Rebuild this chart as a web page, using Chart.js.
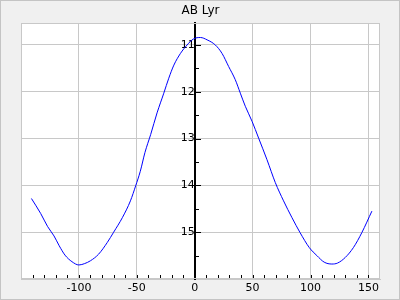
<!DOCTYPE html>
<html>
<head>
<meta charset="utf-8">
<script src="https://cdn.jsdelivr.net/npm/chart.js@4/dist/chart.umd.min.js"></script>
<style>
  html, body { margin: 0; padding: 0; background: #f0f0f0; }
  #box { width: 400px; height: 300px; box-sizing: border-box; border: 1px solid #c4c4c4; background: #f0f0f0; }
  canvas { display: block; }
</style>
</head>
<body>
<div id="box"><canvas id="myChart" width="398" height="298"></canvas></div>
<script>
// light curve of AB Lyr, phase (x) against magnitude (y)
const phase = [-141, -133, -127, -121.5, -117, -112, -106, -100, -95, -90, -83, -75.5, -70, -62.5, -55.5, -51, -47, -43, -38, -32.5,
  -26.7, -22.4, -18, -12.3, -6.6, -1, 5, 10.7, 17.8, 23.6, 29.3, 35, 39.4, 43.7, 49.5, 55.2, 62.4, 69.6, 76.7, 84,
  91, 99, 105.5, 111.8, 118.4, 123.3, 130, 137, 144.3, 153];
const mag = [14.28, 14.60, 14.88, 15.08, 15.29, 15.49, 15.63, 15.70, 15.67, 15.61, 15.47, 15.22, 15.0, 14.69, 14.33, 14.01, 13.70, 13.30, 12.91, 12.45,
  12.03, 11.71, 11.43, 11.18, 11.0, 10.87, 10.84, 10.89, 11.0, 11.18, 11.46, 11.74, 12.03, 12.31, 12.63, 12.99, 13.45, 13.94, 14.33, 14.69,
  15.01, 15.33, 15.50, 15.64, 15.68, 15.66, 15.54, 15.33, 15.01, 14.55];

const xTicks = [-100, -50, 0, 50, 100, 150];
const yTicks = [11, 12, 13, 14, 15];
const xMinor = [-140, -130, -120, -110, -100, -90, -80, -70, -60, -50, -40, -30, -20, -10, 10, 20, 30, 40, 50, 60, 70, 80, 90, 100, 110, 120, 130, 140, 150];
const yMinor = [11.5, 12.5, 13.5, 14.5, 15.5];

Chart.defaults.font.family = "DejaVu Sans";
Chart.defaults.color = "#000";

const gridGray = "#c8c8c8";

// white plot background, frame of the plot + little tick marks on the axes
const frameTicks = {
  id: "frameTicks",
  beforeDraw(chart) {
    const a = chart.chartArea;
    chart.ctx.save();
    chart.ctx.fillStyle = "#fff";
    chart.ctx.fillRect(a.left, a.top, a.right - a.left, a.bottom - a.top);
    chart.ctx.restore();
  },
  afterDraw(chart) {
    const ctx = chart.ctx;
    const a = chart.chartArea;
    const xs = chart.scales.x, ys = chart.scales.y;
    ctx.save();
    ctx.strokeStyle = gridGray;
    ctx.lineWidth = 1;
    ctx.strokeRect(Math.round(a.left) + 0.5, Math.round(a.top) + 0.5, Math.round(a.right - a.left) - 1, Math.round(a.bottom - a.top) - 1);
    ctx.strokeStyle = "#000";
    ctx.beginPath();
    const yb = Math.round(a.bottom) - 1;
    for (const v of xMinor) {
      const px = Math.round(xs.getPixelForValue(v)) + 0.5;
      ctx.moveTo(px, yb);
      ctx.lineTo(px, yb - 3);
    }
    const x0 = Math.round(xs.getPixelForValue(0));
    for (const v of yTicks) {
      const py = Math.round(ys.getPixelForValue(v)) + 0.5;
      ctx.moveTo(x0, py);
      ctx.lineTo(x0 + 6, py);
    }
    for (const v of yMinor) {
      const py = Math.round(ys.getPixelForValue(v)) + 0.5;
      ctx.moveTo(x0, py);
      ctx.lineTo(x0 + 4, py);
    }
    ctx.stroke();
    ctx.restore();
  }
};

const ctx = document.getElementById("myChart").getContext("2d");
const myChart = new Chart(ctx, {
  type: "line",
  data: {
    datasets: [{
      label: "AB Lyr",
      data: phase.map((p, i) => ({ x: p, y: mag[i] })),
      borderColor: "#0000ff",
      borderWidth: 1,
      pointRadius: 0,
      cubicInterpolationMode: "monotone",
      fill: false
    }]
  },
  options: {
    responsive: false,
    animation: false,
    layout: { padding: { left: 20, right: 19, top: 0, bottom: 0 } },
    plugins: {
      legend: { display: false },
      tooltip: { enabled: false },
      title: {
        display: true,
        text: "AB Lyr",
        color: "#000",
        font: { size: 12, weight: "normal" },
        padding: { top: 3, bottom: 4.6 }
      }
    },
    scales: {
      x: {
        type: "linear",
        min: -150,
        max: 160,
        afterBuildTicks: s => { s.ticks = xTicks.map(v => ({ value: v })); },
        afterFit: s => { s.height = 20; },
        grid: { color: gridGray, drawTicks: false },
        border: { color: gridGray, width: 1 },
        ticks: { padding: 3, font: { size: 11 }, maxRotation: 0, autoSkip: false }
      },
      y: {
        type: "linear",
        reverse: true,
        min: 10.53,
        max: 16,
        position: { x: 0 },
        afterBuildTicks: s => { s.ticks = yTicks.map(v => ({ value: v })); },
        grid: { color: gridGray, drawTicks: false },
        border: { color: "#000", width: 2 },
        ticks: { padding: 9, font: { size: 11 } }
      }
    }
  },
  plugins: [frameTicks]
});
</script>
</body>
</html>
